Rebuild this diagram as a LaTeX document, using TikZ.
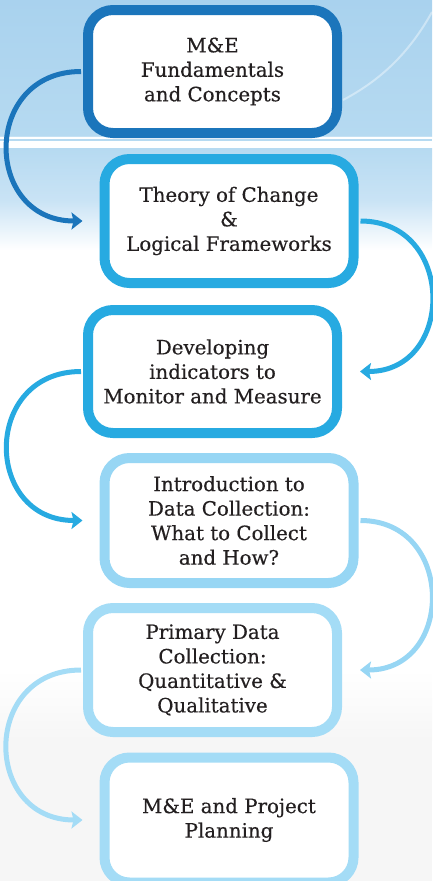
\documentclass[tikz,border=0pt]{standalone}
\usepackage{fontspec}
\setmainfont{DejaVu Serif}[FakeBold=0.4]
\usetikzlibrary{arrows.meta,calc}
\definecolor{cA}{HTML}{1B75BB}
\definecolor{cB}{HTML}{27AAE1}
\definecolor{cC}{HTML}{97D6F4}
\definecolor{cD}{HTML}{A4DCF6}
\definecolor{txt}{HTML}{231F20}
\definecolor{bgA}{HTML}{A9D2EE}
\definecolor{bgB}{HTML}{B6DAF1}
\definecolor{bgC}{HTML}{C9E3F5}
\definecolor{bgG}{HTML}{F6F6F6}
\tikzset{
  stepbox/.style={draw, fill=white, line width=10pt, rounded corners=25pt,
    inner sep=0pt, minimum width=249pt, align=center, text=txt,
    font=\fontsize{19.8}{24.5}\selectfont},
  flow/.style={line width=5pt, -{Stealth[length=11pt,width=17pt,inset=2pt]}}
}
\begin{document}
\begin{tikzpicture}[x=1pt,y=-1pt]
\useasboundingbox (0,0) rectangle (432,881);
% background
\shade[top color=bgA, bottom color=bgB] (0,0) rectangle (432,136);
\fill[white, opacity=0.2] (0,136) rectangle (432,139);
\fill[bgB] (0,139) rectangle (432,141);
\fill[white, opacity=0.15] (0,141) rectangle (432,148);
\shade[top color=bgB, bottom color=bgC] (0,148) rectangle (432,200);
\shade[top color=bgC, bottom color=white] (0,200) rectangle (432,250);
\draw[white, opacity=0.4, line width=2pt] (343,100) .. controls (385,78) and (412,48) .. (432,12);
\shade[top color=white, bottom color=bgG] (0,670) rectangle (432,740);
\fill[bgG] (0,740) rectangle (432,881);
% boxes
\node[stepbox, draw=cA, minimum height=123pt] (b1) at (212.5,71.5) {M\&E\\Fundamentals\\and Concepts};
\node[stepbox, draw=cB, minimum height=124pt] (b2) at (229,221) {Theory of Change\\\&\\Logical Frameworks};
\node[stepbox, draw=cB, minimum height=123pt] (b3) at (212.5,371.5) {Developing\\indicators to\\Monitor and Measure};
\node[stepbox, draw=cC, minimum height=125pt] (b4) at (229,520.5) {Introduction to\\Data Collection:\\What to Collect\\and How?};
\node[stepbox, draw=cD, minimum height=124pt] (b5) at (212.5,670) {Primary Data\\Collection:\\Quantitative \&\\Qualitative};
\node[stepbox, draw=cD, minimum height=125pt] (b6) at (229,820) {M\&E and Project\\Planning};
% connectors
\coordinate (t2) at ($(b2.west)+(-17,0)$);
\coordinate (t3) at ($(b3.east)+(18,0)$);
\coordinate (t4) at ($(b4.west)+(-17,0)$);
\coordinate (t5) at ($(b5.east)+(18,0)$);
\coordinate (t6) at ($(b6.west)+(-17,0)$);
\draw[flow, cA] ($(b1.west)+(-2,0)$) to[out=180, in=180, looseness=1.7] (t2);
\draw[flow, cB] ($(b2.east)+(2,0)$) to[out=0, in=0, looseness=1.62] (t3);
\draw[flow, cB] ($(b3.west)+(-2,0)$) to[out=180, in=180, looseness=1.7] (t4);
\draw[flow, cC] ($(b4.east)+(2,0)$) to[out=0, in=0, looseness=1.62] (t5);
\draw[flow, cD] ($(b5.west)+(-2,0)$) to[out=180, in=180, looseness=1.7] (t6);
\end{tikzpicture}
\end{document}
